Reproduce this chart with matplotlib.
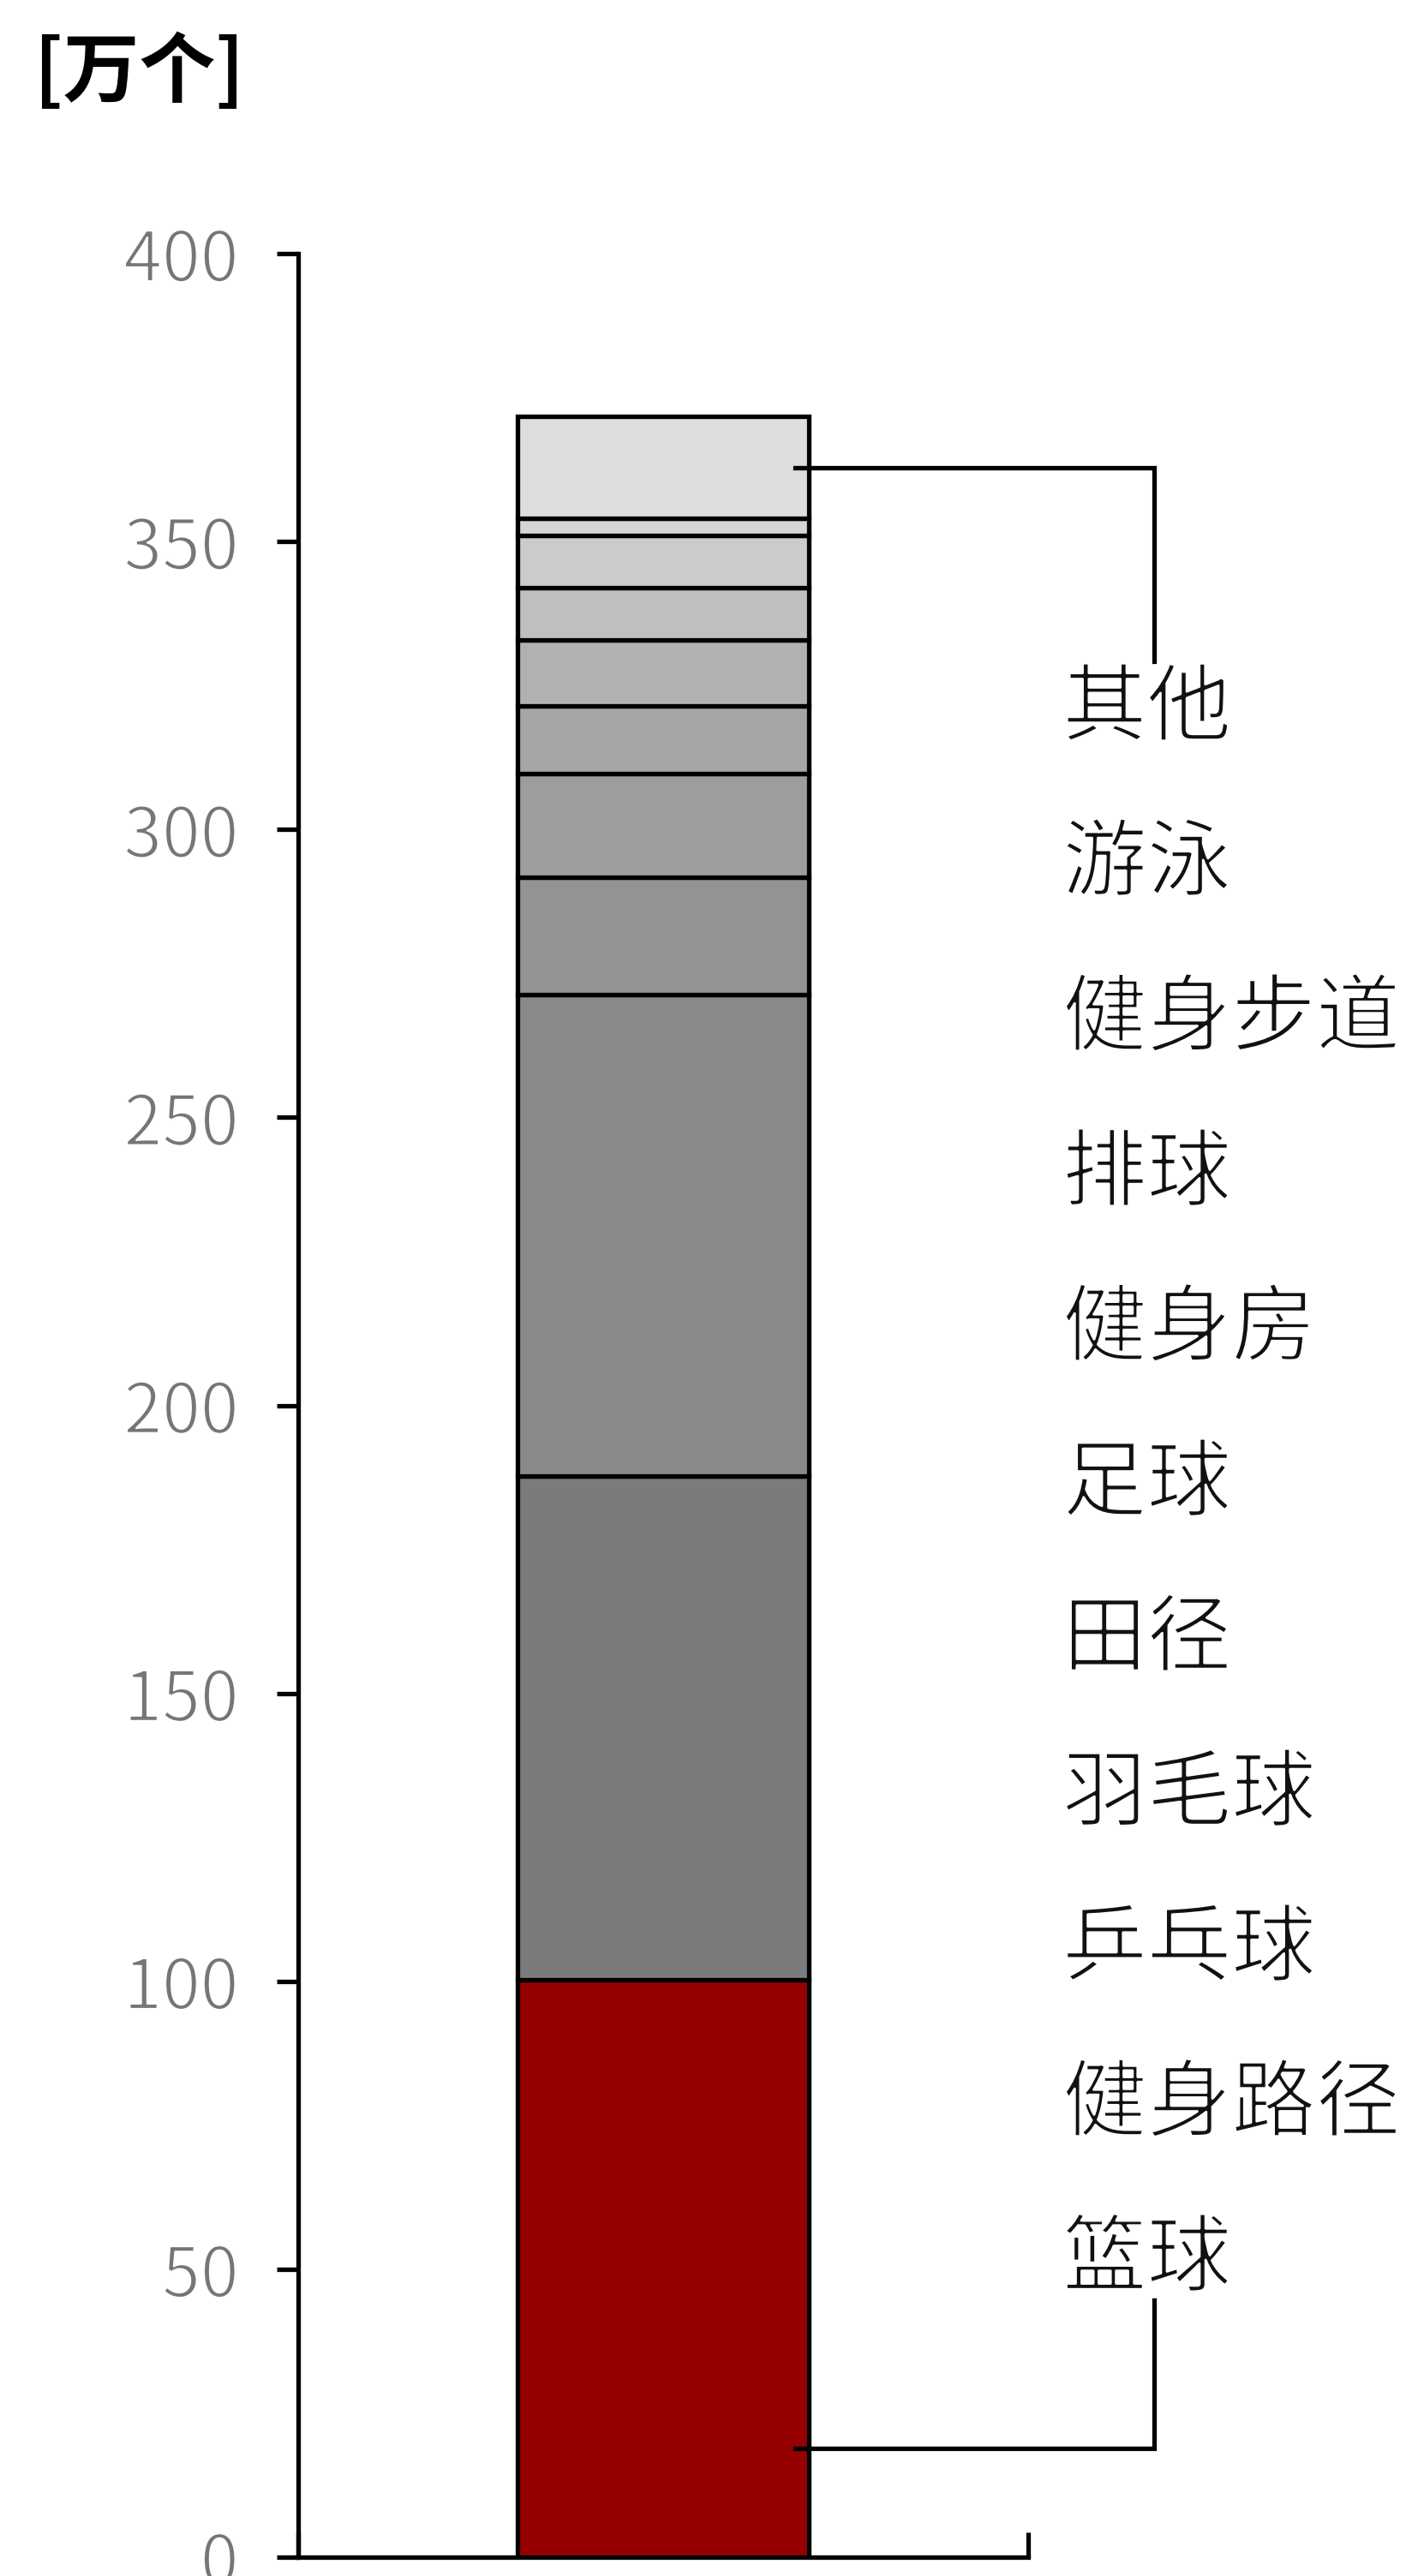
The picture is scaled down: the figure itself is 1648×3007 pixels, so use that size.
import matplotlib
matplotlib.use("Agg")
import matplotlib.pyplot as plt
import matplotlib.patheffects as pe

plt.rcParams['font.family'] = ['Noto Sans CJK SC', 'DejaVu Sans']

# ---- data (bottom -> top of the stack) ----
categories = ['篮球', '健身路径', '乒乓球', '羽毛球', '田径', '足球',
              '健身房', '排球', '健身步道', '游泳', '其他']
values = [100.3, 87.4, 83.7, 20.3, 18.0, 11.7, 11.5, 9.1, 9.1, 2.9, 17.7]
colors = ['#960000', '#7b7b7b', '#898989', '#939393', '#9d9d9d', '#a6a6a6',
          '#b1b1b1', '#bfbfbf', '#cbcbcb', '#d5d5d5', '#dedede']
yticks = [0, 50, 100, 150, 200, 250, 300, 350, 400]
unit_label = '[万个]'

W, H = 1648, 3007
fig = plt.figure(figsize=(W / 100, H / 100), dpi=100)
ax_l, ax_r, ax_b, ax_t = 348, 1200, 2985, 296
ax = fig.add_axes([ax_l / W, 1 - ax_b / H, (ax_r - ax_l) / W, (ax_b - ax_t) / H])

LW = 3.8
bottom = 0
for v, c in zip(values, colors):
    ax.bar(0.5, v, width=0.4, bottom=bottom, color=c, edgecolor='black',
           linewidth=LW, zorder=3)
    bottom += v

thin = [pe.Normal(), pe.Stroke(linewidth=1.6, foreground='white')]

ax.set_xlim(0, 1)
ax.set_ylim(0, 400)
ax.set_yticks(yticks)
ax.set_yticklabels([str(t) for t in yticks])
for s in ['top', 'right']:
    ax.spines[s].set_visible(False)
for s in ['left', 'bottom']:
    ax.spines[s].set_linewidth(LW)
    ax.spines[s].set_color('black')
ax.tick_params(axis='y', direction='out', length=18, width=LW, pad=32,
               labelsize=58, labelcolor='#767676')
for lab in ax.get_yticklabels():
    lab.set_path_effects(thin)
ax.set_xticks([0, 1])
ax.set_xticklabels(['', ''])
ax.tick_params(axis='x', direction='in', length=21, width=LW)

# ---- labels on the right (top -> bottom) ----
px = (ax_b - ax_t) / 400.0  # pixels per unit
label_top_y = (ax_b - 829) / px
label_step = 181 / px
label_x = (1240 - ax_l) / (ax_r - ax_l)
for i, name in enumerate(categories[::-1]):
    ax.text(label_x, label_top_y - i * label_step, name, fontsize=71,
            color='#111111', va='center', ha='left', clip_on=False,
            path_effects=[pe.Normal(), pe.Stroke(linewidth=2.0, foreground='white')])

# ---- leader lines ----
x_in = (928 - ax_l) / (ax_r - ax_l)
x_out = (1347 - ax_l) / (ax_r - ax_l)
top_mid = sum(values[:-1]) + values[-1] / 2
top_end = (ax_b - 772) / px
ax.plot([x_in, x_out, x_out], [top_mid, top_mid, top_end], color='black',
        lw=LW, clip_on=False, zorder=4, solid_joinstyle='miter')
bot_y = (ax_b - 2858) / px
bot_end = (ax_b - 2685) / px
ax.plot([x_in, x_out, x_out], [bot_y, bot_y, bot_end], color='black',
        lw=LW, clip_on=False, zorder=4, solid_joinstyle='miter')

fig.text(40 / W, 1 - 86 / H, unit_label, fontsize=64, va='center', ha='left',
         color='black', fontweight='bold')

fig.savefig('out.png', dpi=100, facecolor='white')
